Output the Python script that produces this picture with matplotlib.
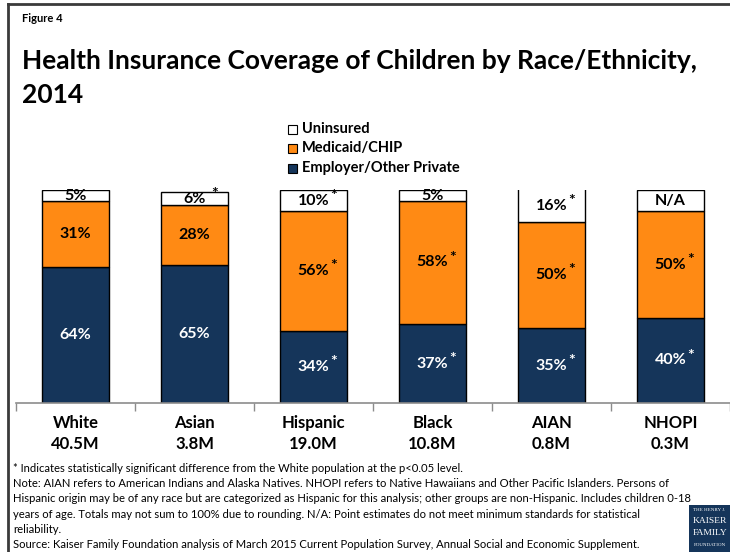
import matplotlib
matplotlib.use("Agg")
import matplotlib.pyplot as plt
from matplotlib.patches import Rectangle
from matplotlib.lines import Line2D

plt.rcParams['font.family'] = ['Lato', 'DejaVu Sans']

# ---- data ----
groups = ["White", "Asian", "Hispanic", "Black", "AIAN", "NHOPI"]
populations = ["40.5M", "3.8M", "19.0M", "10.8M", "0.8M", "0.3M"]
employer_private = [64, 65, 34, 37, 35, 40]
medicaid_chip = [31, 28, 56, 58, 50, 50]
uninsured = [5, 6, 10, 5, 16, None]          # None = N/A (not reliable)
employer_sig = [False, False, True, True, True, True]
medicaid_sig = [False, False, True, True, True, True]
uninsured_sig = [False, True, True, False, True, False]

series_names = ["Uninsured", "Medicaid/CHIP", "Employer/Other Private"]
colors = {"Uninsured": "#FFFFFF", "Medicaid/CHIP": "#FF8A14",
          "Employer/Other Private": "#15355A"}

title = "Health Insurance Coverage of Children by Race/Ethnicity,\n2014"
figure_tag = "Figure 4"
footnotes = [
    "* Indicates statistically significant difference from the White population at the p<0.05 level.",
    "Note: AIAN refers to American Indians and Alaska Natives. NHOPI refers to Native Hawaiians and Other Pacific Islanders. Persons of",
    "Hispanic origin may be of any race but are categorized as Hispanic for this analysis; other groups are non-Hispanic. Includes children 0-18",
    "years of age. Totals may not sum to 100% due to rounding. N/A: Point estimates do not meet minimum standards for statistical",
    "reliability.",
    "Source: Kaiser Family Foundation analysis of March 2015 Current Population Survey, Annual Social and Economic Supplement.",
]

W, H = 730, 552
fig = plt.figure(figsize=(W / 100, H / 100), dpi=100)


def fx(px):
    return px / W


def fy(py):
    return 1 - py / H


# frame on left and top
fig.add_artist(Line2D([fx(8), fx(8)], [0, fy(4)], color="#3a3a3a", lw=2))
fig.add_artist(Line2D([fx(8), 1], [fy(4), fy(4)], color="#3a3a3a", lw=2))

fig.text(fx(22), fy(18), figure_tag, fontsize=8, fontweight="bold", va="center")
fig.text(fx(22), fy(78), title, fontsize=19, fontweight="bold", va="center",
         linespacing=1.5)

# legend
leg_rows = [129, 148, 168]
for name, yy in zip(series_names, leg_rows):
    fig.add_artist(Rectangle((fx(288), fy(yy + 4.5)), fx(9), 9 / H,
                             facecolor=colors[name], edgecolor="black", lw=0.8))
    fig.text(fx(302), fy(yy), name, fontsize=10.5, fontweight="bold", va="center")

# chart area
ax = fig.add_axes([fx(16), fy(403), fx(714), 213 / H])
x = list(range(len(groups)))
bw = 0.56

unins_heights = [u if u is not None else 100 - e - m
                 for u, e, m in zip(uninsured, employer_private, medicaid_chip)]
bottom_m = employer_private
bottom_u = [e + m for e, m in zip(employer_private, medicaid_chip)]

ax.bar(x, employer_private, bw, color=colors["Employer/Other Private"],
       edgecolor="black", lw=1)
ax.bar(x, medicaid_chip, bw, bottom=bottom_m, color=colors["Medicaid/CHIP"],
       edgecolor="black", lw=1)
ax.bar(x, unins_heights, bw, bottom=bottom_u, color=colors["Uninsured"],
       edgecolor="black", lw=1)

ax.set_xlim(-0.5, len(groups) - 0.5)
ax.set_ylim(0, 100)
for s in ["left", "right", "top"]:
    ax.spines[s].set_visible(False)
ax.spines["bottom"].set_color("#8c8c8c")
ax.spines["bottom"].set_linewidth(1.2)
ax.set_yticks([])
ax.set_xticks([i - 0.5 for i in range(len(groups) + 1)])
ax.set_xticklabels([])
ax.tick_params(axis="x", direction="out", length=6, color="#8c8c8c", width=1)

lab_fs = 11.5


def put_label(xi, yc, value, sig, color):
    ax.text(xi, yc, value, ha="center", va="center", fontsize=lab_fs,
            fontweight="bold", color=color)
    if sig:
        ax.annotate("*", (xi, yc), xytext=(11.8, 3.5), textcoords="offset points",
                    ha="left", va="center", fontsize=lab_fs,
                    fontweight="bold", color=color)


for i in x:
    put_label(i, employer_private[i] / 2, f"{employer_private[i]}%",
              employer_sig[i], "white")
    put_label(i, bottom_m[i] + medicaid_chip[i] / 2, f"{medicaid_chip[i]}%",
              medicaid_sig[i], "black")
    utext = f"{uninsured[i]}%" if uninsured[i] is not None else "N/A"
    put_label(i, bottom_u[i] + unins_heights[i] / 2 - 0.3, utext,
              uninsured_sig[i], "black")

# category labels
for i, (g, p) in enumerate(zip(groups, populations)):
    fig.text(fx(16 + 119 * (i + 0.5)), fy(423), g, ha="center", va="center",
             fontsize=12, fontweight="bold")
    fig.text(fx(16 + 119 * (i + 0.5)), fy(444), p, ha="center", va="center",
             fontsize=12, fontweight="bold")

# notes
for k, line in enumerate(footnotes):
    fig.text(fx(13), fy(468 + k * 15.4), line, fontsize=8.1, va="center")

# foundation badge
fig.add_artist(Rectangle((fx(689), 0), fx(41), 47 / H, facecolor="#15355A",
                         edgecolor="none"))
for txt, yy, fs in [("THE HENRY J.", 510, 3.6), ("KAISER", 521, 6.8),
                    ("FAMILY", 533, 6.8), ("FOUNDATION", 545, 3.6)]:
    fig.text(fx(709.5), fy(yy), txt, color="white", fontsize=fs, va="center",
             ha="center", family="Liberation Serif")

fig.savefig("out.png", dpi=100)
